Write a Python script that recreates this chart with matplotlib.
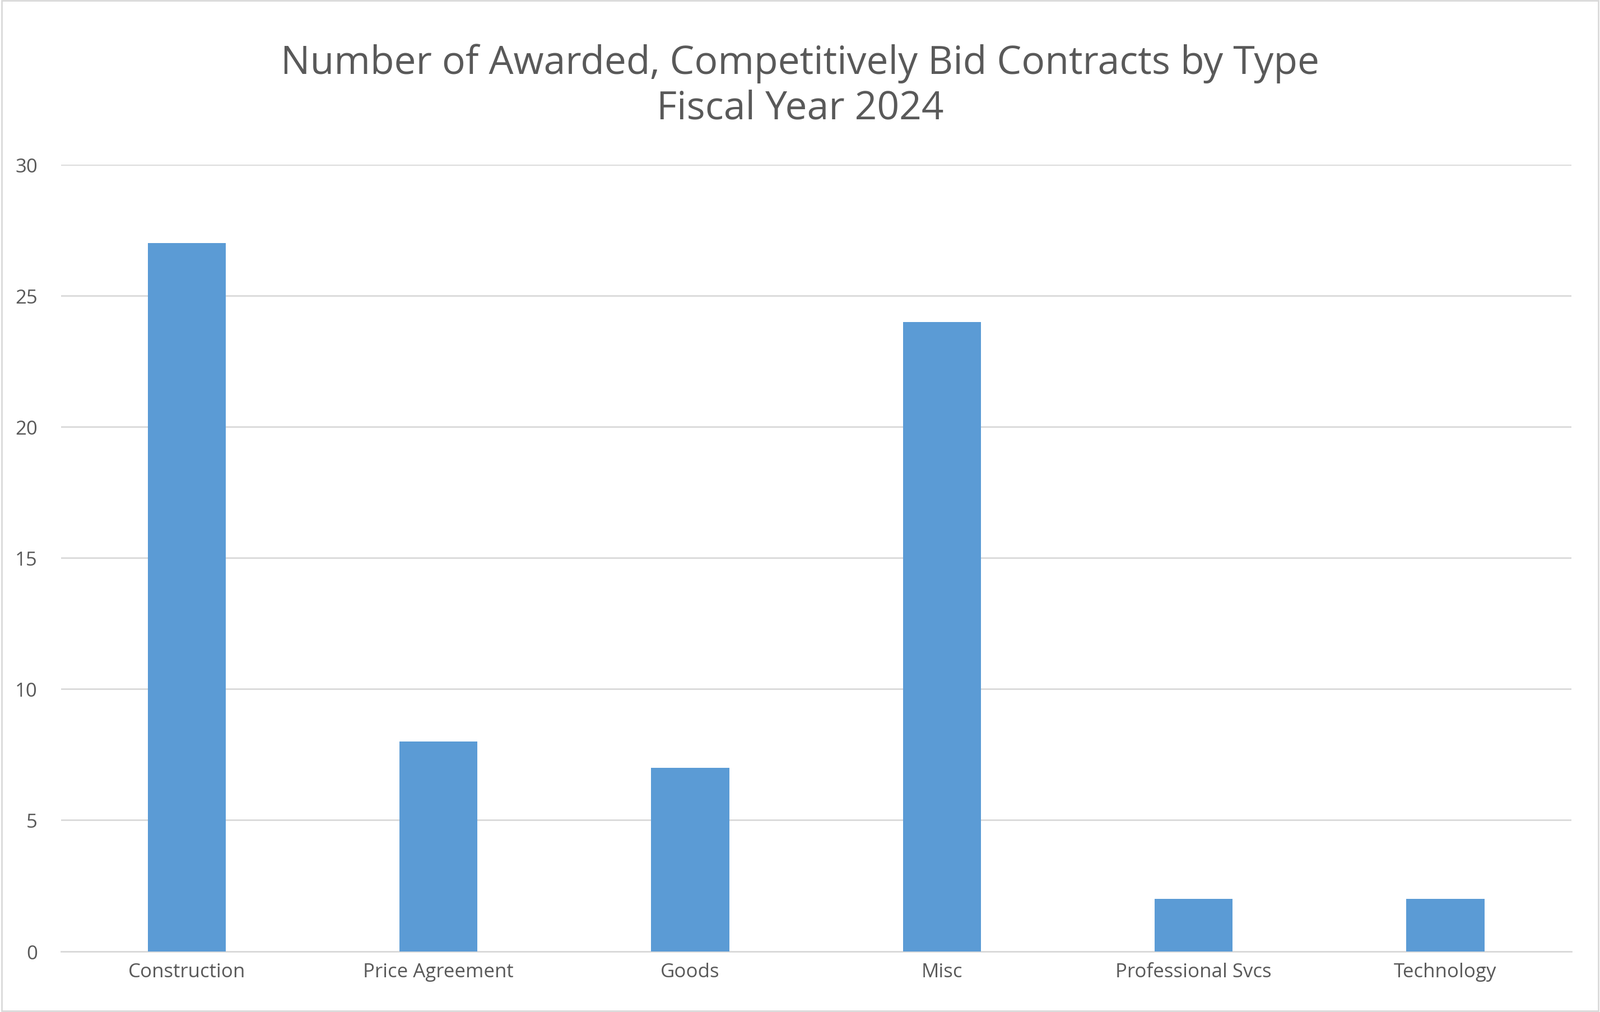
import matplotlib
matplotlib.use("Agg")
import matplotlib.pyplot as plt

categories = ["Construction", "Price Agreement", "Goods", "Misc", "Professional Svcs", "Technology"]
values = [27, 8, 7, 24, 2, 2]
yticks = [0, 5, 10, 15, 20, 25, 30]

plt.rcParams["font.family"] = "Open Sans"
fig = plt.figure(figsize=(28.56, 18.08), dpi=100)
ax = fig.add_axes([0.038, 0.060, 0.944, 0.777])
x = range(len(categories))
ax.bar(x, values, width=0.31, color="#5B9BD5", zorder=3)
ax.set_xlim(-0.5, len(categories) - 0.5)
ax.set_ylim(0, 30)
ax.set_yticks(yticks)
ax.set_xticks(list(x))
ax.set_xticklabels(categories)
ax.grid(axis="y", color="#D9D9D9", linewidth=2, zorder=0)
for s in ["top", "right", "left"]:
    ax.spines[s].set_visible(False)
ax.spines["bottom"].set_color("#D9D9D9")
ax.spines["bottom"].set_linewidth(2)
ax.tick_params(axis="both", length=0, labelsize=25, labelcolor="#595959", pad=14)
ax.tick_params(axis="y", pad=30)
fig.text(0.5, 0.915, "Number of Awarded, Competitively Bid Contracts by Type\nFiscal Year 2024",
         ha="center", va="center", fontsize=50, color="#595959", linespacing=1.2)
fig.patches.append(matplotlib.patches.Rectangle((0.001, 0.001), 0.998, 0.998, transform=fig.transFigure,
                                                fill=False, edgecolor="#D9D9D9", linewidth=2))
fig.savefig("out.png", dpi=100)
